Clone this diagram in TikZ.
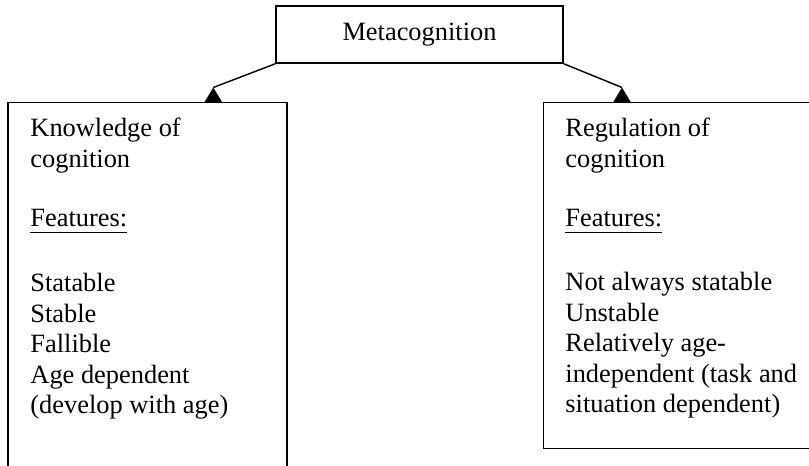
\documentclass[tikz,border=0pt]{standalone}
\usepackage{fontspec}
\setmainfont{Liberation Serif}
\newdimen\px
\px=0.4545pt
% underline drawn a little below the baseline
\newcommand\ulfeat[1]{\setbox0\hbox{#1}\rlap{\rule[-2.9pt]{\wd0}{0.8pt}}\box0}
\begin{document}
\begin{tikzpicture}[x=\px, y=-\px,
  box/.style={draw, line width=0.75pt, inner sep=0pt},
  txt/.style={anchor=base west, inner sep=0pt, font=\fontsize{12}{13.8}\selectfont},
  link/.style={line width=0.65pt},
  tip/.style={fill=black}]
\useasboundingbox (0,0) rectangle (809,466);
\clip (0,0) rectangle (809,466);

% top box
\node[box, minimum width=287\px, minimum height=57\px,
      font=\fontsize{12}{13.8}\selectfont] (meta) at (419.5,34.5) {Metacognition};

% two branch boxes (left one runs past the lower edge, right one past the right edge)
\node[box, minimum width=279\px, minimum height=378\px] (know) at (147.5,291.5) {};
\node[box, minimum width=279\px, minimum height=346\px] (reg) at (683,275.5) {};

% text of the left box
\node[txt] (k1) at (30,137) {Knowledge of};
\node[txt] (k2) at (30,167.5) {cognition};
\node[txt] (k3) at (30,227) {\ulfeat{Features:}};
\node[txt] (k4) at (30,292) {Statable};
\node[txt] (k5) at (30,322.5) {Stable};
\node[txt] (k6) at (30,353) {Fallible};
\node[txt] (k7) at (30,383.5) {Age dependent};
\node[txt] (k8) at (30,414) {(develop with age)};

% text of the right box
\node[txt] (r1) at (565,137) {Regulation of};
\node[txt] (r2) at (565,167.5) {cognition};
\node[txt] (r3) at (565,227) {\ulfeat{Features:}};
\node[txt] (r4) at (565,291) {Not always statable};
\node[txt] (r5) at (565,321.5) {Unstable};
\node[txt] (r6) at (565,352) {Relatively age-};
\node[txt] (r7) at (565,382.5) {independent (task and};
\node[txt] (r8) at (565,413) {situation dependent)};

% connectors with upright triangular heads sitting on the box tops
\coordinate (ltip) at (213.3,87.5);
\coordinate (rtip) at (622,87.5);
\draw[link] (meta.south west) -- (ltip);
\draw[link] (meta.south east) -- (rtip);
\fill[tip] (ltip) -- (204.3,102.5) -- (222.3,102.5) -- cycle;
\fill[tip] (rtip) -- (613,102.5) -- (631,102.5) -- cycle;
\end{tikzpicture}
\end{document}
